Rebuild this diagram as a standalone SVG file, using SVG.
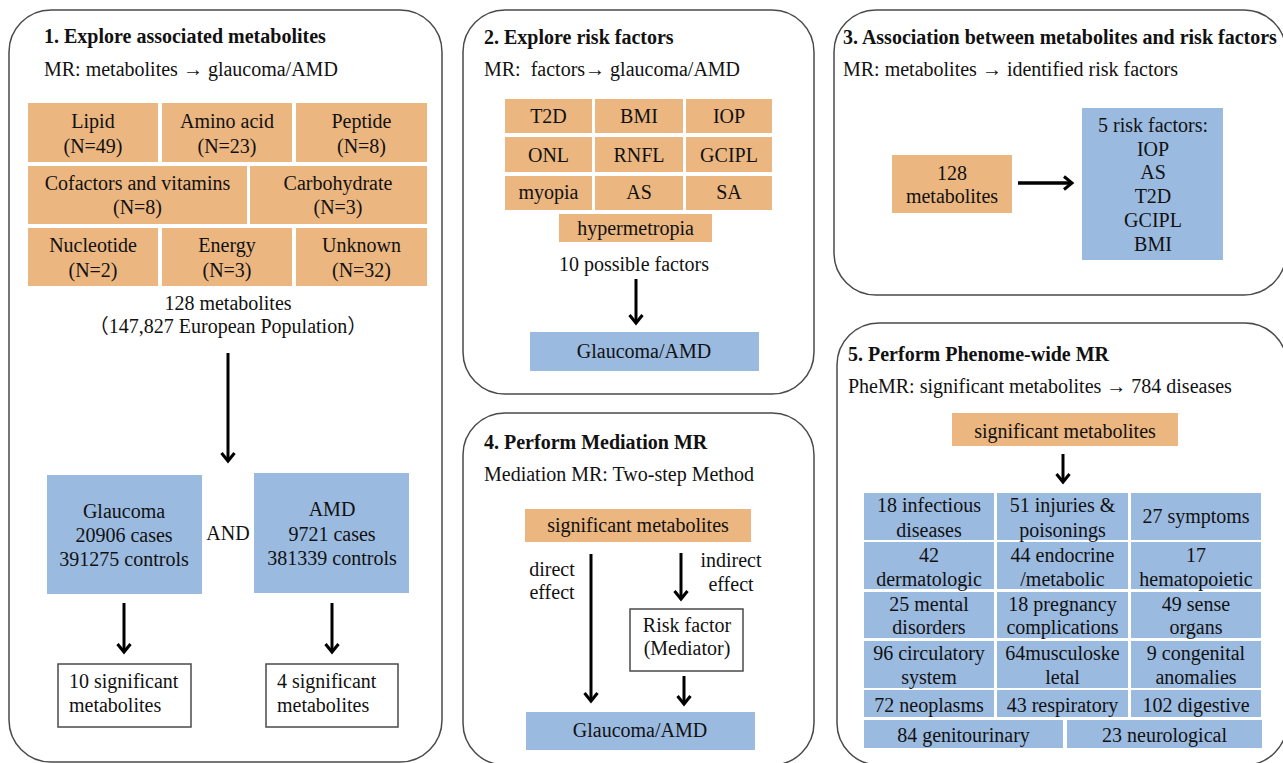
<svg xmlns="http://www.w3.org/2000/svg" width="1283" height="763" viewBox="0 0 1283 763">
<style>
.panel{fill:#fff;stroke:#4a4a4a;stroke-width:1.5}
.or{fill:#EBB680}
.bl{fill:#9BBAE0}
.wb{fill:#fff;stroke:#4a4a4a;stroke-width:1.5}
text{font-family:"Liberation Serif","Times New Roman","Noto Sans CJK SC",serif;font-size:20px;fill:#111}
.t{font-weight:bold}
.c{text-anchor:middle}
.pre{white-space:pre}
.arrow{fill:none;stroke:#000;stroke-width:3;marker-end:url(#ah)}
</style>
<defs>
<marker id="ah" viewBox="0 0 10 16" refX="9" refY="8" markerWidth="10" markerHeight="16" markerUnits="userSpaceOnUse" orient="auto" overflow="visible">
<path d="M1,1.5 L9,8 L1,14.5" fill="none" stroke="#000" stroke-width="3"/>
</marker>
</defs>
<rect width="1283" height="763" fill="#fff"/>

<g id="panel1">
<rect class="panel" x="9" y="10" width="433" height="752" rx="42"/>
<text class="t" x="44" y="43">1. Explore associated metabolites</text>
<text x="44" y="76">MR: metabolites → glaucoma/AMD</text>
</g>
<g id="p1-lipid"><rect class="or" x="28" y="103" width="130" height="59"/><text class="c" x="93" y="128">Lipid</text><text class="c" x="93" y="153">(N=49)</text></g>
<g id="p1-amino"><rect class="or" x="162" y="103" width="130" height="59"/><text class="c" x="227" y="128">Amino acid</text><text class="c" x="227" y="153">(N=23)</text></g>
<g id="p1-peptide"><rect class="or" x="296" y="103" width="131" height="59"/><text class="c" x="361.5" y="128">Peptide</text><text class="c" x="361.5" y="153">(N=8)</text></g>
<g id="p1-cofactors"><rect class="or" x="28" y="166" width="219" height="58"/><text class="c" x="137.5" y="190">Cofactors and vitamins</text><text class="c" x="137.5" y="214">(N=8)</text></g>
<g id="p1-carb"><rect class="or" x="250" y="166" width="177" height="58"/><text class="c" x="338" y="190">Carbohydrate</text><text class="c" x="338" y="214">(N=3)</text></g>
<g id="p1-nucleotide"><rect class="or" x="28" y="228" width="130" height="58"/><text class="c" x="93" y="252">Nucleotide</text><text class="c" x="93" y="277">(N=2)</text></g>
<g id="p1-energy"><rect class="or" x="162" y="228" width="130" height="58"/><text class="c" x="227" y="252">Energy</text><text class="c" x="227" y="277">(N=3)</text></g>
<g id="p1-unknown"><rect class="or" x="296" y="228" width="131" height="58"/><text class="c" x="361.5" y="252">Unknown</text><text class="c" x="361.5" y="277">(N=32)</text></g>
<g id="p1-total"><text class="c" x="228" y="310">128 metabolites</text><text class="c" x="228" y="333">（147,827 European Population）</text></g>
<g id="p1-glaucoma"><rect class="bl" x="47" y="475" width="155" height="119"/><text class="c" x="124" y="518">Glaucoma</text><text class="c" x="124" y="542">20906 cases</text><text class="c" x="124" y="566">391275 controls</text></g>
<g id="p1-and"><text class="c" x="228" y="540">AND</text></g>
<g id="p1-amd"><rect class="bl" x="254" y="473" width="155" height="120"/><text class="c" x="332" y="516">AMD</text><text class="c" x="332" y="541">9721 cases</text><text class="c" x="332" y="565">381339 controls</text></g>
<g id="p1-sig10"><rect class="wb" x="58" y="664" width="133" height="63"/><text x="69" y="688">10 significant</text><text x="69" y="712">metabolites</text></g>
<g id="p1-sig4"><rect class="wb" x="266" y="664" width="132" height="63"/><text x="277" y="688">4 significant</text><text x="277" y="712">metabolites</text></g>

<g id="panel2">
<rect class="panel" x="463" y="10" width="351" height="384" rx="42"/>
<text class="t" x="484" y="44">2. Explore risk factors</text>
<text class="pre" x="484" y="76">MR:  factors→ glaucoma/AMD</text>
</g>
<g id="p2-t2d"><rect class="or" x="505" y="99" width="87" height="34"/><text class="c" x="548.5" y="123">T2D</text></g>
<g id="p2-bmi"><rect class="or" x="595" y="99" width="88" height="34"/><text class="c" x="639" y="123">BMI</text></g>
<g id="p2-iop"><rect class="or" x="686" y="99" width="86" height="34"/><text class="c" x="729" y="123">IOP</text></g>
<g id="p2-onl"><rect class="or" x="505" y="137" width="87" height="35"/><text class="c" x="548.5" y="162">ONL</text></g>
<g id="p2-rnfl"><rect class="or" x="595" y="137" width="88" height="35"/><text class="c" x="639" y="162">RNFL</text></g>
<g id="p2-gcipl"><rect class="or" x="686" y="137" width="86" height="35"/><text class="c" x="729" y="162">GCIPL</text></g>
<g id="p2-myopia"><rect class="or" x="505" y="176" width="87" height="34"/><text class="c" x="548.5" y="199">myopia</text></g>
<g id="p2-as"><rect class="or" x="595" y="176" width="88" height="34"/><text class="c" x="639" y="199">AS</text></g>
<g id="p2-sa"><rect class="or" x="686" y="176" width="86" height="34"/><text class="c" x="729" y="199">SA</text></g>
<g id="p2-hyper"><rect class="or" x="559" y="214" width="153" height="28"/><text class="c" x="635.5" y="235">hypermetropia</text></g>
<g id="p2-possible"><text class="c" x="634" y="271">10 possible factors</text></g>
<g id="p2-outcome"><rect class="bl" x="530" y="332" width="229" height="39"/><text class="c" x="644" y="358">Glaucoma/AMD</text></g>

<g id="panel3">
<rect class="panel" x="834" y="10" width="452" height="285" rx="42"/>
<text class="t" x="843" y="44">3. Association between metabolites and risk factors</text>
<text x="843" y="76">MR: metabolites → identified risk factors</text>
</g>
<g id="p3-metab"><rect class="or" x="892" y="155" width="120" height="58"/><text class="c" x="952" y="180">128</text><text class="c" x="952" y="203">metabolites</text></g>
<g id="p3-risk"><rect class="bl" x="1082" y="108" width="141" height="152"/>
<text class="c" x="1153" y="132">5 risk factors:</text><text class="c" x="1153" y="156">IOP</text><text class="c" x="1153" y="179">AS</text><text class="c" x="1153" y="203">T2D</text><text class="c" x="1153" y="227">GCIPL</text><text class="c" x="1153" y="251">BMI</text></g>

<g id="panel4">
<rect class="panel" x="463" y="413" width="351" height="352" rx="42"/>
<text class="t" x="484" y="449">4. Perform Mediation MR</text>
<text x="484" y="481">Mediation MR: Two-step Method</text>
</g>
<g id="p4-sig"><rect class="or" x="525" y="509" width="226" height="33"/><text class="c" x="638" y="532">significant metabolites</text></g>
<g id="p4-direct"><text class="c" x="552" y="576">direct</text><text class="c" x="552" y="599">effect</text></g>
<g id="p4-indirect"><text class="c" x="731" y="567">indirect</text><text class="c" x="731" y="591">effect</text></g>
<g id="p4-mediator"><rect class="wb" x="630" y="609" width="113" height="62"/><text class="c" x="687" y="632">Risk factor</text><text class="c" x="687" y="655">(Mediator)</text></g>
<g id="p4-outcome"><rect class="bl" x="526" y="712" width="229" height="38"/><text class="c" x="640" y="737">Glaucoma/AMD</text></g>

<g id="panel5">
<rect class="panel" x="837" y="323" width="450" height="442" rx="42"/>
<text class="t" x="848" y="361">5. Perform Phenome-wide MR</text>
<text x="848" y="393">PheMR: significant metabolites → 784 diseases</text>
</g>
<g id="p5-sig"><rect class="or" x="952" y="413" width="226" height="33"/><text class="c" x="1065" y="438">significant metabolites</text></g>
<g id="p5-d1"><rect class="bl" x="864" y="493" width="130" height="47"/><text class="c" x="929" y="512">18 infectious</text><text class="c" x="929" y="537">diseases</text></g>
<g id="p5-d2"><rect class="bl" x="997" y="493" width="131" height="47"/><text class="c" x="1062.5" y="512">51 injuries &amp;</text><text class="c" x="1062.5" y="537">poisonings</text></g>
<g id="p5-d3"><rect class="bl" x="1131" y="493" width="130" height="47"/><text class="c" x="1196" y="523">27 symptoms</text></g>
<g id="p5-d4"><rect class="bl" x="864" y="542" width="130" height="47"/><text class="c" x="929" y="562">42</text><text class="c" x="929" y="586">dermatologic</text></g>
<g id="p5-d5"><rect class="bl" x="997" y="542" width="131" height="47"/><text class="c" x="1062.5" y="562">44 endocrine</text><text class="c" x="1062.5" y="586">/metabolic</text></g>
<g id="p5-d6"><rect class="bl" x="1131" y="542" width="130" height="47"/><text class="c" x="1196" y="562">17</text><text class="c" x="1196" y="586">hematopoietic</text></g>
<g id="p5-d7"><rect class="bl" x="864" y="592" width="130" height="46"/><text class="c" x="929" y="611">25 mental</text><text class="c" x="929" y="634">disorders</text></g>
<g id="p5-d8"><rect class="bl" x="997" y="592" width="131" height="46"/><text class="c" x="1062.5" y="611">18 pregnancy</text><text class="c" x="1062.5" y="634">complications</text></g>
<g id="p5-d9"><rect class="bl" x="1131" y="592" width="130" height="46"/><text class="c" x="1196" y="611">49 sense</text><text class="c" x="1196" y="634">organs</text></g>
<g id="p5-d10"><rect class="bl" x="864" y="641" width="130" height="47"/><text class="c" x="929" y="660">96 circulatory</text><text class="c" x="929" y="684">system</text></g>
<g id="p5-d11"><rect class="bl" x="997" y="641" width="131" height="47"/><text class="c" x="1062.5" y="660">64musculoske</text><text class="c" x="1062.5" y="684">letal</text></g>
<g id="p5-d12"><rect class="bl" x="1131" y="641" width="130" height="47"/><text class="c" x="1196" y="660">9 congenital</text><text class="c" x="1196" y="684">anomalies</text></g>
<g id="p5-d13"><rect class="bl" x="864" y="690" width="130" height="27"/><text class="c" x="929" y="712">72 neoplasms</text></g>
<g id="p5-d14"><rect class="bl" x="997" y="690" width="131" height="27"/><text class="c" x="1062.5" y="712">43 respiratory</text></g>
<g id="p5-d15"><rect class="bl" x="1131" y="690" width="130" height="27"/><text class="c" x="1196" y="712">102 digestive</text></g>
<g id="p5-d16"><rect class="bl" x="864" y="720" width="199" height="28"/><text class="c" x="963.5" y="742">84 genitourinary</text></g>
<g id="p5-d17"><rect class="bl" x="1067" y="720" width="195" height="28"/><text class="c" x="1164.5" y="742">23 neurological</text></g>

<g id="connectors">
<path class="arrow" d="M228,353 V461"/>
<path class="arrow" d="M124,603 V652"/>
<path class="arrow" d="M332,603 V652"/>
<path class="arrow" d="M636,279 V323"/>
<path class="arrow" d="M1018,183 H1072" style="stroke-width:3.5"/>
<path class="arrow" d="M591,554 V701"/>
<path class="arrow" d="M681,553 V599"/>
<path class="arrow" d="M684,676 V704"/>
<path class="arrow" d="M1063,454 V482"/>
</g>
</svg>
